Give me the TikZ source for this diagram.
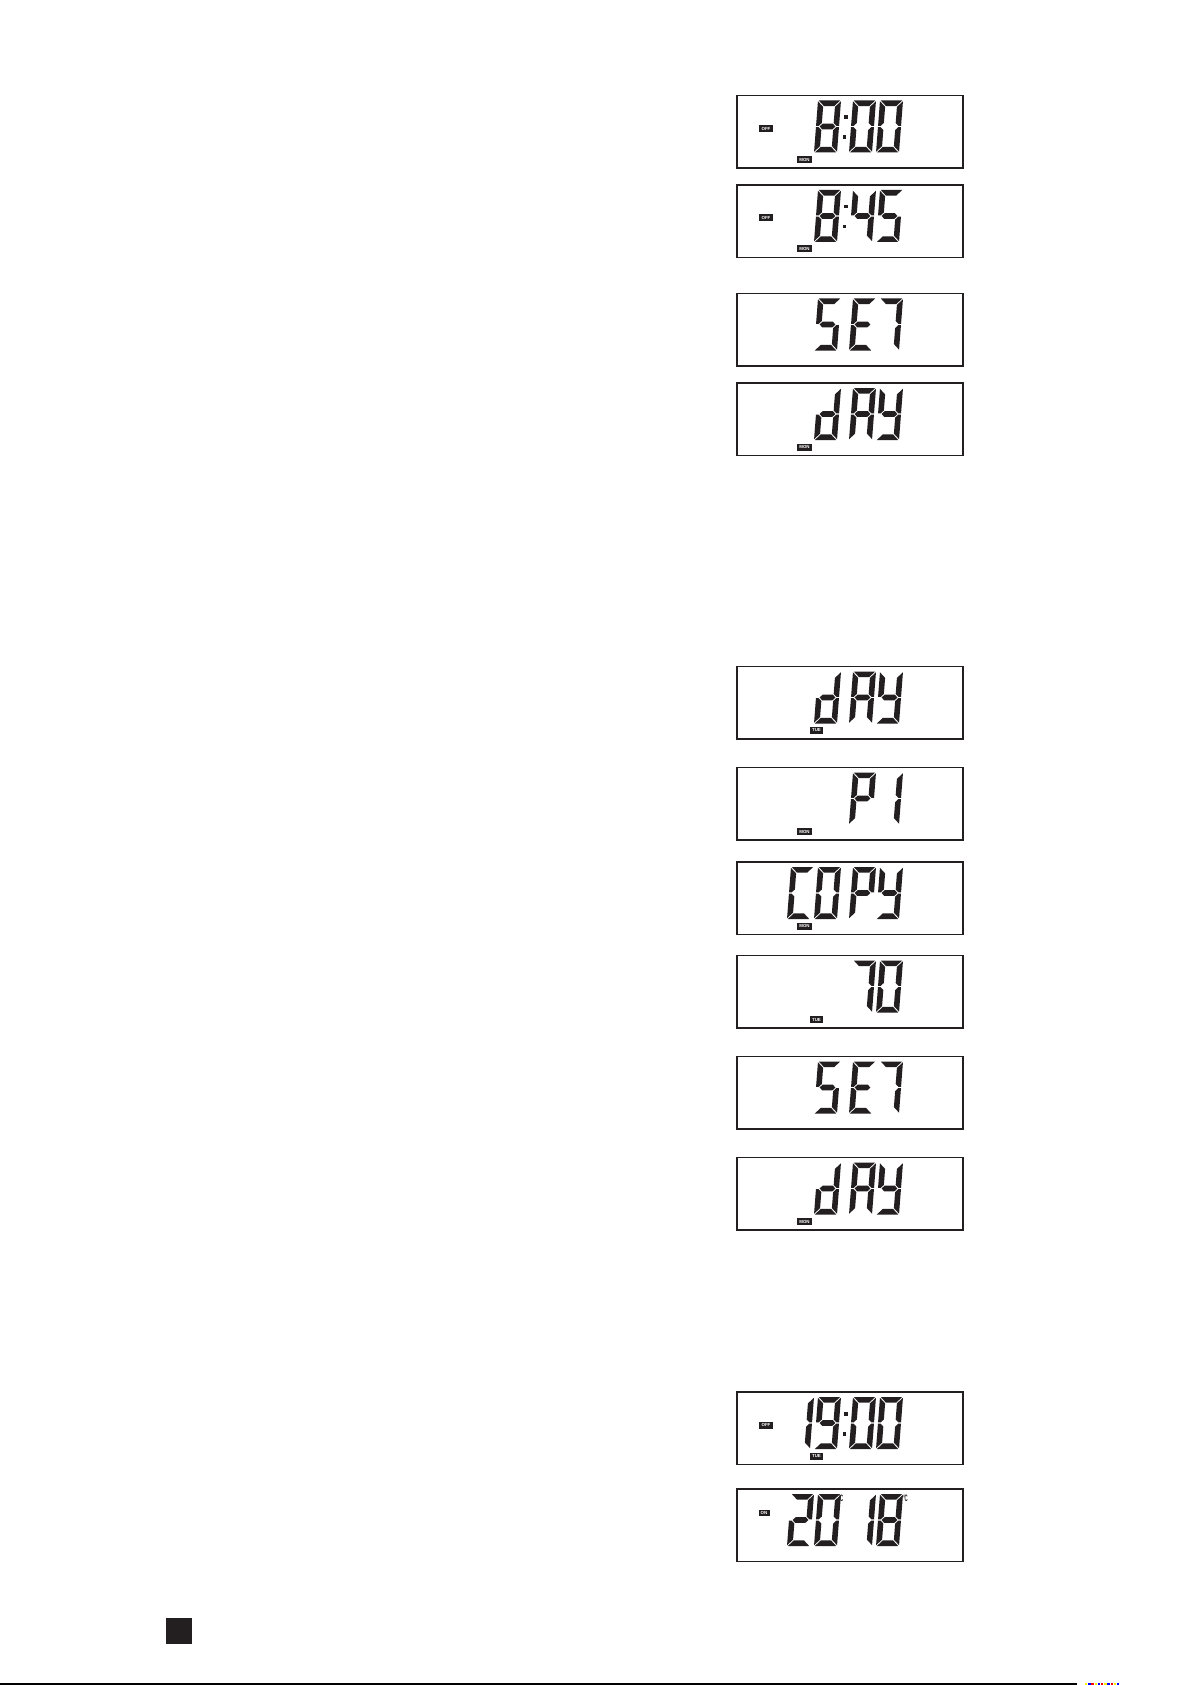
\documentclass[tikz,border=0pt]{standalone}
\usepackage{fontspec}
\setsansfont{Liberation Sans}
\definecolor{inkdark}{HTML}{231F20}
\newcommand\lcdsegA{\fill[segfill] (0.8,0)--(22.2,0)--(16.6,5.6)--(6.4,5.6)--cycle;}
\newcommand\lcdsegB{\fill[segfill] (23,0.8)--(17.4,6.4)--(17.4,22.4)--(20.4,25.4)--(23,25.4)--cycle;}
\newcommand\lcdsegC{\fill[segfill] (23,26.6)--(20.4,26.6)--(17.4,29.6)--(17.4,45.6)--(23,51.2)--cycle;}
\newcommand\lcdsegD{\fill[segfill] (0.8,52)--(22.2,52)--(16.6,46.4)--(6.4,46.4)--cycle;}
\newcommand\lcdsegE{\fill[segfill] (0,26.6)--(2.6,26.6)--(5.6,29.6)--(5.6,45.6)--(0,51.2)--cycle;}
\newcommand\lcdsegF{\fill[segfill] (0,0.8)--(5.6,6.4)--(5.6,22.4)--(2.6,25.4)--(0,25.4)--cycle;}
\newcommand\lcdsegG{\fill[segfill] (3.6,26)--(6.4,23.2)--(16.6,23.2)--(19.4,26)--(16.6,28.8)--(6.4,28.8)--cycle;}
\newcommand\lcddig[3]{\begin{scope}[shift={(#1,#2)},xslant=0.077]\foreach \s in {#3}{\csname lcdseg\s\endcsname}\end{scope}}
\newcommand\lcdcolon[1]{\fill[segfill] (844.2,#1+19.7) rectangle ++(3.8,3.8); \fill[segfill] (842.6,#1+39.7) rectangle ++(3.8,3.8);}
% badge: #1 name, #2 x, #3 y, #4 width, #5 height, #6 text
\newcommand\lcdbadge[6]{\node[badgebg] (#1bg) at (#2,#3) {\rule{#4pt}{#5pt}};
  \node[badgetext] (#1) at (#2,#3) {#6};}
\begin{document}
\begin{tikzpicture}[x=1pt,y=-1pt,
  lcdbox/.style={draw=inkdark, line width=1.3pt},
  segfill/.style={fill=inkdark},
  badgebg/.style={inner sep=0pt, text=inkdark},
  badgetext/.style={text=white, inner sep=0pt, font=\fontsize{4.4}{4.4}\selectfont\sffamily\bfseries},
  degc/.style={inner sep=0pt, text=inkdark, font=\fontsize{8.5}{8.5}\selectfont\sffamily\bfseries}
]
\useasboundingbox (0,0) rectangle (1192,1685);
\fill[white] (0,0) rectangle (1192,1685);

% boxes
\foreach \T in {95.5,185,293.5,383,666.5,767.5,862,955.5,1056.5,1157.5,1392,1489}
  {\draw[lcdbox] (737,\T) rectangle (963,\T+72.5);}

% box 1: 8:00
\lcdbadge{off1}{766}{128.5}{14}{7}{OFF}
\lcdbadge{mon1}{804.5}{159.5}{15}{7}{MON}
\lcddig{818}{100.5}{A,B,C,D,E,F,G}
\lcdcolon{95.5}
\lcddig{853}{100.5}{A,B,C,D,E,F}
\lcddig{880}{100.5}{A,B,C,D,E,F}

% box 2: 8:45
\lcdbadge{off2}{766}{218}{14}{7}{OFF}
\lcdbadge{mon2}{804.5}{249}{15}{7}{MON}
\lcddig{818}{190}{A,B,C,D,E,F,G}
\lcdcolon{185}
\lcddig{853}{190}{B,C,F,G}
\lcddig{880}{190}{A,C,D,F,G}

% box 3: SET
\lcddig{818}{298.5}{A,C,D,F,G}
\lcddig{853}{298.5}{A,D,E,F,G}
\lcddig{880}{298.5}{A,B,C}

% box 4: dAY MON
\lcdbadge{mon4}{804.5}{447}{15}{7}{MON}
\lcddig{818}{388}{B,C,D,E,G}
\lcddig{853}{388}{A,B,C,E,F,G}
\lcddig{880}{388}{B,C,D,F,G}

% box 5: dAY TUE
\lcdbadge{tue5}{816.5}{730.5}{13}{7}{TUE}
\lcddig{818}{671.5}{B,C,D,E,G}
\lcddig{853}{671.5}{A,B,C,E,F,G}
\lcddig{880}{671.5}{B,C,D,F,G}

% box 6: P1
\lcdbadge{mon6}{804.5}{831.5}{15}{7}{MON}
\lcddig{853}{772.5}{A,B,E,F,G}
\lcddig{880}{772.5}{B,C}

% box 7: COPY
\lcdbadge{mon7}{804.5}{926}{15}{7}{MON}
\lcddig{791}{867}{A,D,E,F}
\lcddig{818}{867}{A,B,C,D,E,F}
\lcddig{853}{867}{A,B,E,F,G}
\lcddig{880}{867}{B,C,D,F,G}

% box 8: 70
\lcdbadge{tue8}{816.5}{1019.5}{13}{7}{TUE}
\lcddig{853}{960.5}{A,B,C}
\lcddig{880}{960.5}{A,B,C,D,E,F}

% box 9: SET
\lcddig{818}{1061.5}{A,C,D,F,G}
\lcddig{853}{1061.5}{A,D,E,F,G}
\lcddig{880}{1061.5}{A,B,C}

% box 10: dAY MON
\lcdbadge{mon10}{804.5}{1221.5}{15}{7}{MON}
\lcddig{818}{1162.5}{B,C,D,E,G}
\lcddig{853}{1162.5}{A,B,C,E,F,G}
\lcddig{880}{1162.5}{B,C,D,F,G}

% box 11: 19:00
\lcdbadge{off11}{766}{1425}{14}{7}{OFF}
\lcdbadge{tue11}{816.5}{1456}{13}{7}{TUE}
\lcddig{791}{1397}{B,C}
\lcddig{818}{1397}{A,B,C,D,F,G}
\lcdcolon{1392}
\lcddig{853}{1397}{A,B,C,D,E,F}
\lcddig{880}{1397}{A,B,C,D,E,F}

% box 12: 20 18
\lcdbadge{on12}{764}{1513}{11}{6.5}{ON}
\lcddig{791}{1494}{A,B,D,E,G}
\lcddig{818}{1494}{A,B,C,D,E,F}
\node[degc] (dc1) at (841,1498) {\scalebox{0.5}[1.1]{°\kern-0.6pt C}};
\lcddig{853}{1494}{B,C}
\lcddig{880}{1494}{A,B,C,D,E,F,G}
\node[degc] (dc2) at (905.5,1498) {\scalebox{0.5}[1.1]{°\kern-0.6pt C}};

% page marks
\fill[inkdark] (166,1618) rectangle (192,1644);
\fill[black] (0,1683.2) rectangle (1077,1685);
\foreach \i/\c in {0/yellow,1/blue,2/red,3/yellow,4/blue,5/red,6/yellow,7/blue,8/red,9/yellow,10/blue}
  {\fill[\c] (1085+\i*3.2,1683.2) rectangle ++(2.4,1.8);}
\end{tikzpicture}
\end{document}
